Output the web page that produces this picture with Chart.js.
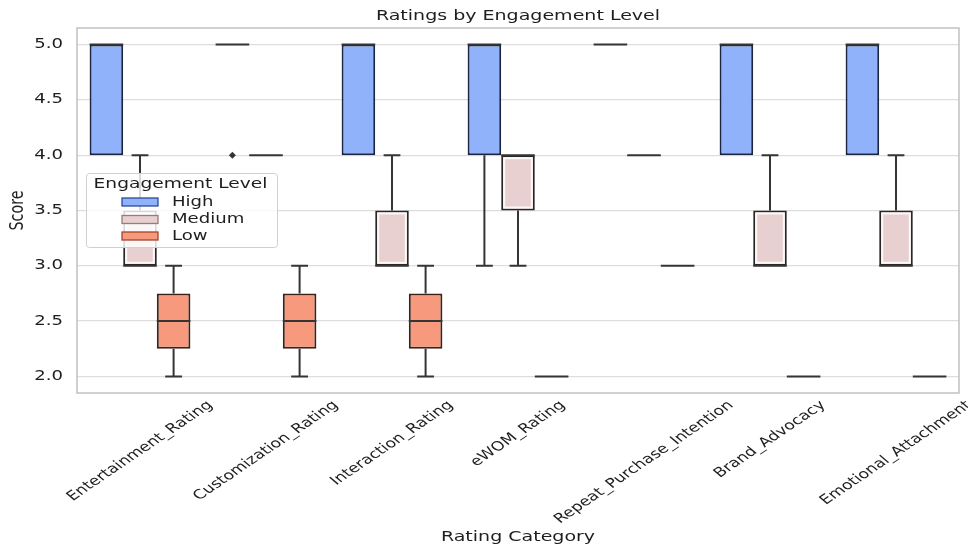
<!DOCTYPE html>
<html>
<head>
<meta charset="utf-8">
<script src="https://cdn.jsdelivr.net/npm/chart.js@4.4.1/dist/chart.umd.min.js"></script>
<style>
  html, body { margin: 0; padding: 0; background: #ffffff; }
  #wrap { width: 968px; height: 548px; position: relative; }
</style>
</head>
<body>
<div id="wrap"><canvas id="chart" width="968" height="548"></canvas></div>
<script>
// Rating categories on the x axis
const categories = ['Entertainment_Rating', 'Customization_Rating', 'Interaction_Rating', 'eWOM_Rating',
  'Repeat_Purchase_Intention', 'Brand_Advocacy', 'Emotional_Attachment'];
const levels = ['High', 'Medium', 'Low'];
const yTicks = [2.0, 2.5, 3.0, 3.5, 4.0, 4.5, 5.0];

// Box statistics per engagement level (one value per category)
const highQ1 = [4, 5, 4, 4, 5, 4, 4];
const highMedian = [5, 5, 5, 5, 5, 5, 5];
const highQ3 = [5, 5, 5, 5, 5, 5, 5];
const highWhiskerLow = [4, 5, 4, 3, 5, 4, 4];
const highWhiskerHigh = [5, 5, 5, 5, 5, 5, 5];
const highOutliers = [[], [4], [], [], [], [], []];

const mediumQ1 = [3, 4, 3, 3.5, 4, 3, 3];
const mediumMedian = [3, 4, 3, 4, 4, 3, 3];
const mediumQ3 = [3.5, 4, 3.5, 4, 4, 3.5, 3.5];
const mediumWhiskerLow = [3, 4, 3, 3, 4, 3, 3];
const mediumWhiskerHigh = [4, 4, 4, 4, 4, 4, 4];
const mediumOutliers = [[], [], [], [], [], [], []];

const lowQ1 = [2.25, 2.25, 2.25, 2, 3, 2, 2];
const lowMedian = [2.5, 2.5, 2.5, 2, 3, 2, 2];
const lowQ3 = [2.75, 2.75, 2.75, 2, 3, 2, 2];
const lowWhiskerLow = [2, 2, 2, 2, 3, 2, 2];
const lowWhiskerHigh = [3, 3, 3, 2, 3, 2, 2];
const lowOutliers = [[], [], [], [], [], [], []];

const stats = [
  { q1: highQ1, med: highMedian, q3: highQ3, lo: highWhiskerLow, hi: highWhiskerHigh, out: highOutliers },
  { q1: mediumQ1, med: mediumMedian, q3: mediumQ3, lo: mediumWhiskerLow, hi: mediumWhiskerHigh, out: mediumOutliers },
  { q1: lowQ1, med: lowMedian, q3: lowQ3, lo: lowWhiskerLow, hi: lowWhiskerHigh, out: lowOutliers }
];

const fills = ['#90b2fb', '#e8d0d1', '#f6997c'];
const edges = ['#1c2440', '#2a2626', '#3e2219'];
const legendEdges = ['#2b4a9a', '#9a7c7c', '#a1462a'];
const LINE = '#353535';
const TEXT = '#1e1e1e';
const FONT = '"DejaVu Sans", sans-serif';
const SX = 1.33; // horizontal text stretch
const LABEL_ANGLE = -42 * Math.PI / 180;

function stretchedText(ctx, text, x, y, opts) {
  ctx.save();
  ctx.translate(x, y);
  ctx.scale(SX, 1);
  if (opts.rotate) ctx.rotate(opts.rotate);
  ctx.font = opts.font;
  ctx.fillStyle = opts.color || TEXT;
  ctx.textAlign = opts.align || 'center';
  ctx.textBaseline = opts.baseline || 'middle';
  ctx.fillText(text, 0, 0);
  ctx.restore();
}

const boxPlugin = {
  id: 'boxDetails',
  beforeDatasetsDraw(chart) {
    const { ctx, chartArea: a } = chart;
    ctx.save();
    ctx.strokeStyle = '#bdbdbd';
    ctx.lineWidth = 1.4;
    ctx.strokeRect(a.left, a.top, a.right - a.left, a.bottom - a.top);
    ctx.restore();
  },
  afterDatasetsDraw(chart) {
    const { ctx } = chart;
    const y = chart.scales.y;
    ctx.save();
    stats.forEach((s, di) => {
      const meta = chart.getDatasetMeta(di);
      meta.data.forEach((el, i) => {
        const x = el.x, w = el.width;
        const py = v => y.getPixelForValue(v);
        ctx.strokeStyle = LINE;
        ctx.lineWidth = 2;
        ctx.lineCap = 'butt';
        // inner light rim on medium boxes
        if (di === 1 && s.q3[i] > s.q1[i]) {
          ctx.save();
          ctx.strokeStyle = 'rgba(255,255,255,0.85)';
          ctx.lineWidth = 2;
          ctx.strokeRect(x - w / 2 + 3, py(s.q3[i]) + 3, w - 6, py(s.q1[i]) - py(s.q3[i]) - 6);
          ctx.restore();
        }
        // whiskers and caps
        const whisk = (from, to) => {
          if (from === to) return;
          ctx.beginPath();
          ctx.moveTo(x, py(from));
          ctx.lineTo(x, py(to));
          ctx.moveTo(x - w / 4, py(to));
          ctx.lineTo(x + w / 4, py(to));
          ctx.stroke();
        };
        whisk(s.q3[i], s.hi[i]);
        whisk(s.q1[i], s.lo[i]);
        // median
        ctx.beginPath();
        ctx.moveTo(x - w / 2, py(s.med[i]));
        ctx.lineTo(x + w / 2, py(s.med[i]));
        ctx.stroke();
        // outliers
        s.out[i].forEach(v => {
          const oy = py(v), r = 3.5;
          ctx.fillStyle = LINE;
          ctx.beginPath();
          ctx.moveTo(x, oy - r);
          ctx.lineTo(x + r, oy);
          ctx.lineTo(x, oy + r);
          ctx.lineTo(x - r, oy);
          ctx.closePath();
          ctx.fill();
        });
      });
    });
    ctx.restore();
  },
  afterDraw(chart) {
    const { ctx, chartArea: a } = chart;
    const xs = chart.scales.x, ys = chart.scales.y;
    const tickFont = '13.6px ' + FONT;
    const xTickFont = '13px ' + FONT;
    // y tick labels
    ys.ticks.forEach(t => {
      stretchedText(ctx, t.value.toFixed(1), a.left - 14, ys.getPixelForValue(t.value), { font: tickFont, align: 'right' });
    });
    // rotated x tick labels, centred under each category
    ctx.font = xTickFont;
    const sinA = Math.abs(Math.sin(LABEL_ANGLE)), cosA = Math.abs(Math.cos(LABEL_ANGLE));
    categories.forEach((c, i) => {
      const w = ctx.measureText(c).width;
      const h = 12;
      const half = (w * sinA + h * cosA) / 2;
      stretchedText(ctx, c, xs.getPixelForValue(i), a.bottom + 6 + half,
        { font: xTickFont, rotate: LABEL_ANGLE });
    });
    // titles
    const cx = (a.left + a.right) / 2;
    stretchedText(ctx, 'Ratings by Engagement Level', cx, 16, { font: '14.3px ' + FONT });
    stretchedText(ctx, 'Rating Category', cx, 537, { font: '14.3px ' + FONT });
    ctx.save();
    ctx.translate(18, (a.top + a.bottom) / 2);
    ctx.rotate(-Math.PI / 2);
    ctx.font = '14.3px ' + FONT;
    ctx.fillStyle = TEXT;
    ctx.textAlign = 'center';
    ctx.textBaseline = 'middle';
    ctx.scale(1, SX);
    ctx.fillText('Score', 0, 0);
    ctx.restore();
    // legend
    ctx.save();
    const L = { x: 86, y: 173, w: 191, h: 74 };
    ctx.fillStyle = 'rgba(255,255,255,0.82)';
    ctx.strokeStyle = '#d0d0d0';
    ctx.lineWidth = 1;
    ctx.beginPath();
    ctx.roundRect(L.x + 0.5, L.y + 0.5, L.w, L.h, 3);
    ctx.fill();
    ctx.stroke();
    ctx.restore();
    stretchedText(ctx, 'Engagement Level', L.x + L.w / 2 - 1, 184, { font: '14px ' + FONT });
    const rows = [202, 219.5, 236];
    levels.forEach((lv, i) => {
      ctx.save();
      ctx.fillStyle = fills[i];
      ctx.strokeStyle = legendEdges[i];
      ctx.lineWidth = 1.3;
      ctx.fillRect(122, rows[i] - 4, 36, 8);
      ctx.strokeRect(122, rows[i] - 4, 36, 8);
      ctx.restore();
      stretchedText(ctx, lv, 172, rows[i], { font: '13.6px ' + FONT, align: 'left' });
    });
  }
};

new Chart(document.getElementById('chart'), {
  type: 'bar',
  data: {
    labels: categories,
    datasets: levels.map((lv, di) => ({
      label: lv,
      data: categories.map((c, i) => [stats[di].q1[i], stats[di].q3[i]]),
      backgroundColor: fills[di],
      borderColor: edges[di],
      borderWidth: 2,
      borderSkipped: false,
      categoryPercentage: 0.8,
      barPercentage: 1.0
    }))
  },
  options: {
    responsive: false,
    animation: false,
    layout: { padding: { left: 0, right: 9, top: 28, bottom: 0 } },
    plugins: { legend: { display: false }, title: { display: false }, tooltip: { enabled: false } },
    scales: {
      x: {
        type: 'category',
        offset: true,
        grid: { display: false },
        border: { display: false },
        ticks: { display: false },
        afterFit(scale) { scale.height = 155; }
      },
      y: {
        min: 1.85,
        max: 5.15,
        grid: { color: '#dddddd', lineWidth: 1.3, drawTicks: false },
        border: { display: false },
        ticks: { display: false },
        afterBuildTicks(scale) { scale.ticks = yTicks.map(v => ({ value: v })); },
        afterFit(scale) { scale.width = 77; }
      }
    }
  },
  plugins: [boxPlugin]
});
</script>
</body>
</html>
